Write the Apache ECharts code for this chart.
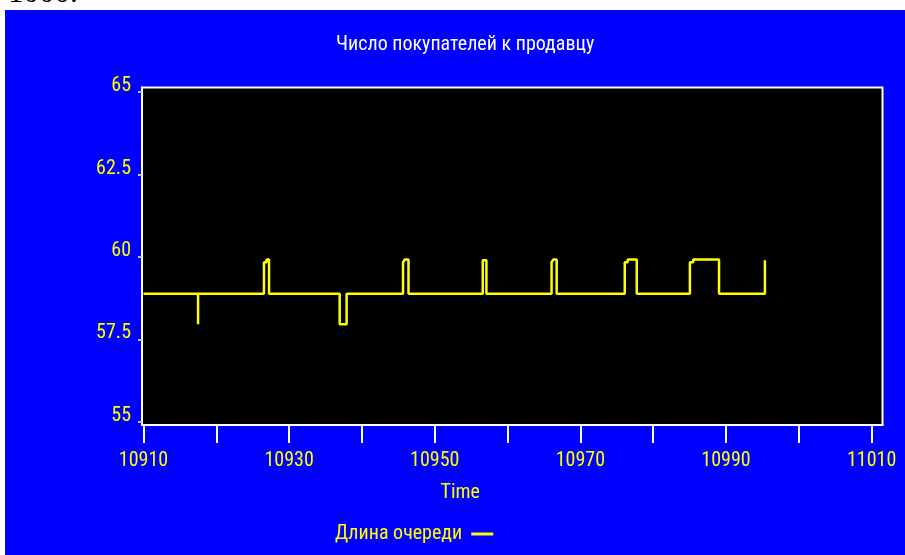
<!DOCTYPE html>
<html>
<head>
<meta charset="utf-8">
<script src="https://cdn.jsdelivr.net/npm/echarts@6/dist/echarts.min.js"></script>
<style>
  html, body { margin: 0; padding: 0; background: #ffffff; width: 905px; height: 555px; overflow: hidden; }
  #top { position: absolute; left: 8px; top: -24px; font-family: "Liberation Serif", serif; font-size: 31px; color: #000; line-height: 31px; }
  #chart { position: absolute; left: 5px; top: 10px; width: 900px; height: 545px; background: #0000ff; }
</style>
</head>
<body>
<div id="top">1000.</div>
<div id="chart"></div>
<script>
// ---- data ----
const titleText = 'Число покупателей к продавцу';
const seriesName = 'Длина очереди';
const xName = 'Time';
// queue length over time (vertical changes share the same time)
const times  = [10910, 10917.5, 10917.5, 10917.5, 10926.55, 10926.55, 10926.9, 10926.9, 10927.25, 10927.25,
                10936.95, 10936.95, 10937.9, 10937.9, 10945.65, 10945.65, 10945.9, 10945.9, 10946.4, 10946.4,
                10956.6, 10956.6, 10957.1, 10957.1, 10966.05, 10966.05, 10966.3, 10966.3, 10966.75, 10966.75,
                10976.1, 10976.1, 10976.5, 10976.5, 10977.75, 10977.75, 10985.05, 10985.05, 10985.5, 10985.5,
                10989.05, 10989.05, 10995.35, 10995.35];
const values = [58.88, 58.88, 57.96, 58.88, 58.88, 59.84, 59.84, 59.92, 59.92, 58.88,
                58.88, 57.96, 57.96, 58.88, 58.88, 59.84, 59.84, 59.92, 59.92, 58.88,
                58.88, 59.9, 59.9, 58.88, 58.88, 59.84, 59.84, 59.92, 59.92, 58.88,
                58.88, 59.84, 59.84, 59.92, 59.92, 58.88, 58.88, 59.84, 59.84, 59.92,
                59.92, 58.88, 58.88, 59.9];
const yTicks = [55, 57.5, 60, 62.5, 65];
const xTicks = [10910, 10920, 10930, 10940, 10950, 10960, 10970, 10980, 10990, 11000, 11010];
const xLabels = [10910, 10930, 10950, 10970, 10990, 11010];

const FONT = '"Roboto Condensed", "DejaVu Sans Condensed", sans-serif';
const YEL = '#ffff00';
const FS = 20;

const chart = echarts.init(document.getElementById('chart'), null, { renderer: 'canvas' });
chart.setOption({
  backgroundColor: '#0000ff',
  animation: false,
  title: {
    text: titleText, left: 331, top: 25, padding: 0,
    textStyle: { color: '#ffffff', fontFamily: FONT, fontSize: FS, fontWeight: 'normal' }
  },
  legend: {
    data: [seriesName], left: 330, top: 514, align: 'right', padding: 0,
    icon: 'rect', itemWidth: 22, itemHeight: 3,
    textStyle: { color: YEL, fontFamily: FONT, fontSize: FS, padding: [0, 4, 0, 0] }
  },
  grid: {
    left: 137, right: 22.5, top: 77.5, bottom: 130,
    show: true, backgroundColor: '#000000', borderColor: '#ffffff', borderWidth: 2
  },
  xAxis: {
    type: 'value', min: 10909.8, max: 11011.5,
    name: xName, nameLocation: 'middle', nameGap: 58,
    nameTextStyle: { color: YEL, fontFamily: FONT, fontSize: FS, padding: [0, 104, 0, 0] },
    axisLine: { show: true, lineStyle: { color: '#ffffff', width: 2 } },
    axisTick: { show: true, customValues: xTicks, length: 18, lineStyle: { color: '#ffffff', width: 2 } },
    axisLabel: { customValues: xLabels, color: YEL, fontFamily: FONT, fontSize: FS, margin: 26,
                 formatter: v => String(Math.round(v)) },
    splitLine: { show: false }
  },
  yAxis: {
    type: 'value', min: 54.9, max: 65.14,
    axisLine: { show: true, lineStyle: { color: '#ffffff', width: 2 } },
    axisTick: { show: true, customValues: yTicks, length: 4, lineStyle: { color: '#c0c0c0', width: 2 } },
    axisLabel: { customValues: yTicks, color: YEL, fontFamily: FONT, fontSize: FS, margin: 11,
                 verticalAlign: 'bottom', lineHeight: 12, formatter: v => String(v) },
    splitLine: { show: false }
  },
  series: [{
    name: seriesName, type: 'line', symbol: 'none',
    data: times.map((t, i) => [t, values[i]]),
    lineStyle: { color: YEL, width: 2.5 }, itemStyle: { color: YEL }
  }]
});
</script>
</body>
</html>
